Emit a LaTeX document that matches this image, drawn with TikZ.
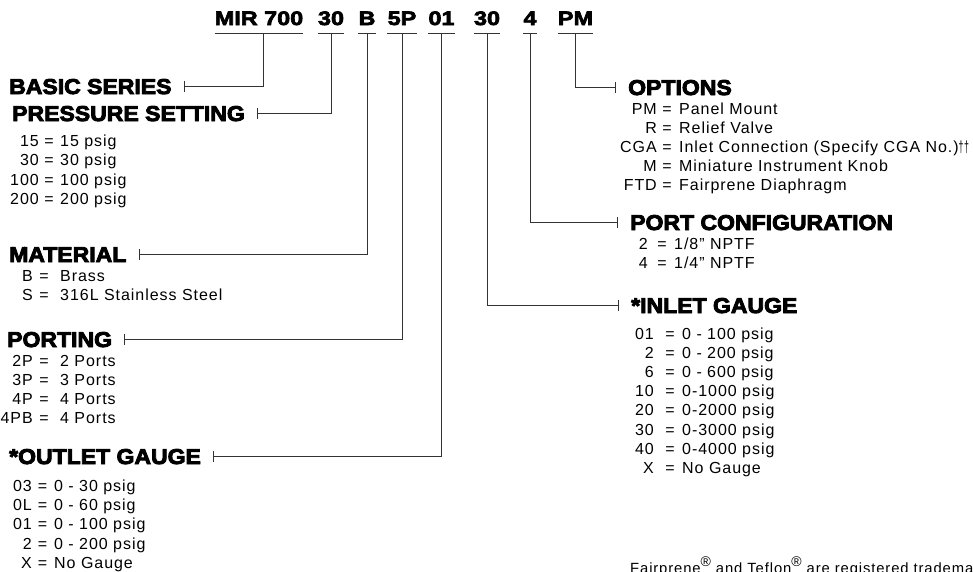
\documentclass[tikz,border=0pt]{standalone}
\usepackage{fontspec}
\setmainfont{Liberation Sans}[LetterSpace=6]
\newfontfamily\headfont{Liberation Sans Bold}[FakeStretch=1.07,FakeBold=4]
\newfontfamily\codefont{Liberation Sans Bold}[FakeStretch=1.2,FakeBold=3.5]
\usetikzlibrary{arrows.meta}
\newcommand\regmark{\raisebox{6.5pt}{\fontsize{14}{14}\selectfont ®}}
\begin{document}
\begin{tikzpicture}[x=1pt, y=-1pt,
  code/.style={font=\codefont\fontsize{19.5}{22}\selectfont, inner xsep=0pt, inner ysep=8pt, anchor=base},
  heading/.style={font=\headfont\fontsize{21.5}{24}\selectfont, inner xsep=12pt, inner ysep=0pt},
  lead/.style={draw=black!80, line width=1pt},
  entry/.style={font=\fontsize{16}{19}\selectfont, inner sep=0pt}]
  \useasboundingbox (0,0) rectangle (973,571);
  \clip (0,0) rectangle (973,571);
  % --- model code ---
  \node[code] (mir) at (259,25) {MIR 700};
  \node[code] (pres) at (331,25) {30};
  \node[code] (mat) at (367,25) {B};
  \node[code] (port) at (402,25) {5P};
  \node[code] (outg) at (441.5,25) {01};
  \node[code] (inlg) at (487,25) {30};
  \node[code] (conf) at (530,25) {4};
  \node[code] (opt) at (575.5,25) {PM};
  \foreach \n in {mir, pres, mat, port, outg, inlg, conf, opt}{
    \draw[lead] (\n.south west) -- (\n.south east);
  }
  % --- headings ---
  \node[heading, anchor=base west] (basic) at (-3,94) {BASIC SERIES};
  \node[heading, anchor=base west] (pressure) at (0,121) {PRESSURE SETTING};
  \node[heading, anchor=base west] (material) at (-3,262) {MATERIAL};
  \node[heading, anchor=base west] (porting) at (-5,347) {PORTING};
  \node[heading, anchor=base west] (outlet) at (-3,464) {*OUTLET GAUGE};
  \node[heading, anchor=base west] (options) at (616,95) {OPTIONS};
  \node[heading, anchor=base west] (config) at (618,230) {PORT CONFIGURATION};
  \node[heading, anchor=base west] (inlet) at (619,313) {*INLET GAUGE};
  % --- leaders ---
  \draw[lead, -{Bar[width=11pt]}] ([xshift=4pt]mir.south) |- (basic.east);
  \draw[lead, -{Bar[width=11pt]}] (pres.south) |- (pressure.east);
  \draw[lead, -{Bar[width=11pt]}] (mat.south) |- (material.east);
  \draw[lead, -{Bar[width=11pt]}] (port.south) |- (porting.east);
  \draw[lead, -{Bar[width=11pt]}] (outg.south) |- (outlet.east);
  \draw[lead, -{Bar[width=11pt]}] (opt.south) |- (options.west);
  \draw[lead, -{Bar[width=11pt]}] (conf.south) |- (config.west);
  \draw[lead, -{Bar[width=11pt]}] (inlg.south) |- (inlet.west);
  % pressure setting
  \foreach \c/\v [count=\i] in {15/15 psig, 30/30 psig, 100/100 psig, 200/200 psig}{
    \pgfmathsetmacro\yy{127.2+19.3*\i}
    \node[entry, anchor=base east] (pres-c\i) at (39,\yy) {\c};
    \node[entry, anchor=base] (pres-e\i) at (49,\yy) {=};
    \node[entry, anchor=base west] (pres-v\i) at (60,\yy) {\v};
  }
  % material
  \foreach \c/\v [count=\i] in {B/Brass, S/316L Stainless Steel}{
    \pgfmathsetmacro\yy{262.5+19*\i}
    \node[entry, anchor=base east] (mat-c\i) at (33,\yy) {\c};
    \node[entry, anchor=base] (mat-e\i) at (44,\yy) {=};
    \node[entry, anchor=base west] (mat-v\i) at (60,\yy) {\v};
  }
  % porting
  \foreach \c/\v [count=\i] in {2P/2 Ports, 3P/3 Ports, 4P/4 Ports, 4PB/4 Ports}{
    \pgfmathsetmacro\yy{347.5+19*\i}
    \node[entry, anchor=base east] (port-c\i) at (33,\yy) {\c};
    \node[entry, anchor=base] (port-e\i) at (44,\yy) {=};
    \node[entry, anchor=base west] (port-v\i) at (60,\yy) {\v};
  }
  % outlet gauge
  \foreach \c/\v [count=\i] in {03/0 - 30 psig, 0L/0 - 60 psig, 01/0 - 100 psig,
    2/0 - 200 psig, X/No Gauge}{
    \pgfmathsetmacro\yy{472.3+19.2*\i}
    \node[entry, anchor=base east] (outg-c\i) at (32,\yy) {\c};
    \node[entry, anchor=base] (outg-e\i) at (42.5,\yy) {=};
    \node[entry, anchor=base west] (outg-v\i) at (54,\yy) {\v};
  }
  % options
  \foreach \c/\v [count=\i] in {PM/Panel Mount, R/Relief Valve,
    CGA/Inlet Connection (Specify CGA No.)\scalebox{0.55}[1]{††},
    M/Miniature Instrument Knob, FTD/Fairprene Diaphragm}{
    \pgfmathsetmacro\yy{95.5+19*\i}
    \node[entry, anchor=base east] (opt-c\i) at (657,\yy) {\c};
    \node[entry, anchor=base] (opt-e\i) at (667,\yy) {=};
    \node[entry, anchor=base west] (opt-v\i) at (679,\yy) {\v};
  }
  % port configuration
  \foreach \c/\v [count=\i] in {2/{1/8" NPTF}, 4/{1/4" NPTF}}{
    \pgfmathsetmacro\yy{230.5+19*\i}
    \node[entry, anchor=base east] (conf-c\i) at (648,\yy) {\c};
    \node[entry, anchor=base] (conf-e\i) at (662,\yy) {=};
    \node[entry, anchor=base west] (conf-v\i) at (674,\yy) {\v};
  }
  % inlet gauge
  \foreach \c/\v [count=\i] in {01/0 - 100 psig, 2/0 - 200 psig, 6/0 - 600 psig,
    10/0-1000 psig, 20/0-2000 psig, 30/0-3000 psig, 40/0-4000 psig, X/No Gauge}{
    \pgfmathsetmacro\yy{320.4+19.1*\i}
    \node[entry, anchor=base east] (inlg-c\i) at (654,\yy) {\c};
    \node[entry, anchor=base] (inlg-e\i) at (670,\yy) {=};
    \node[entry, anchor=base west] (inlg-v\i) at (682,\yy) {\v};
  }
  % footnote
  \node[entry, font=\fontsize{14.8}{17}\selectfont, anchor=base west] (note) at (630,573)
    {Fairprene\regmark{} and Teflon\regmark{} are registered trademarks};
\end{tikzpicture}
\end{document}
